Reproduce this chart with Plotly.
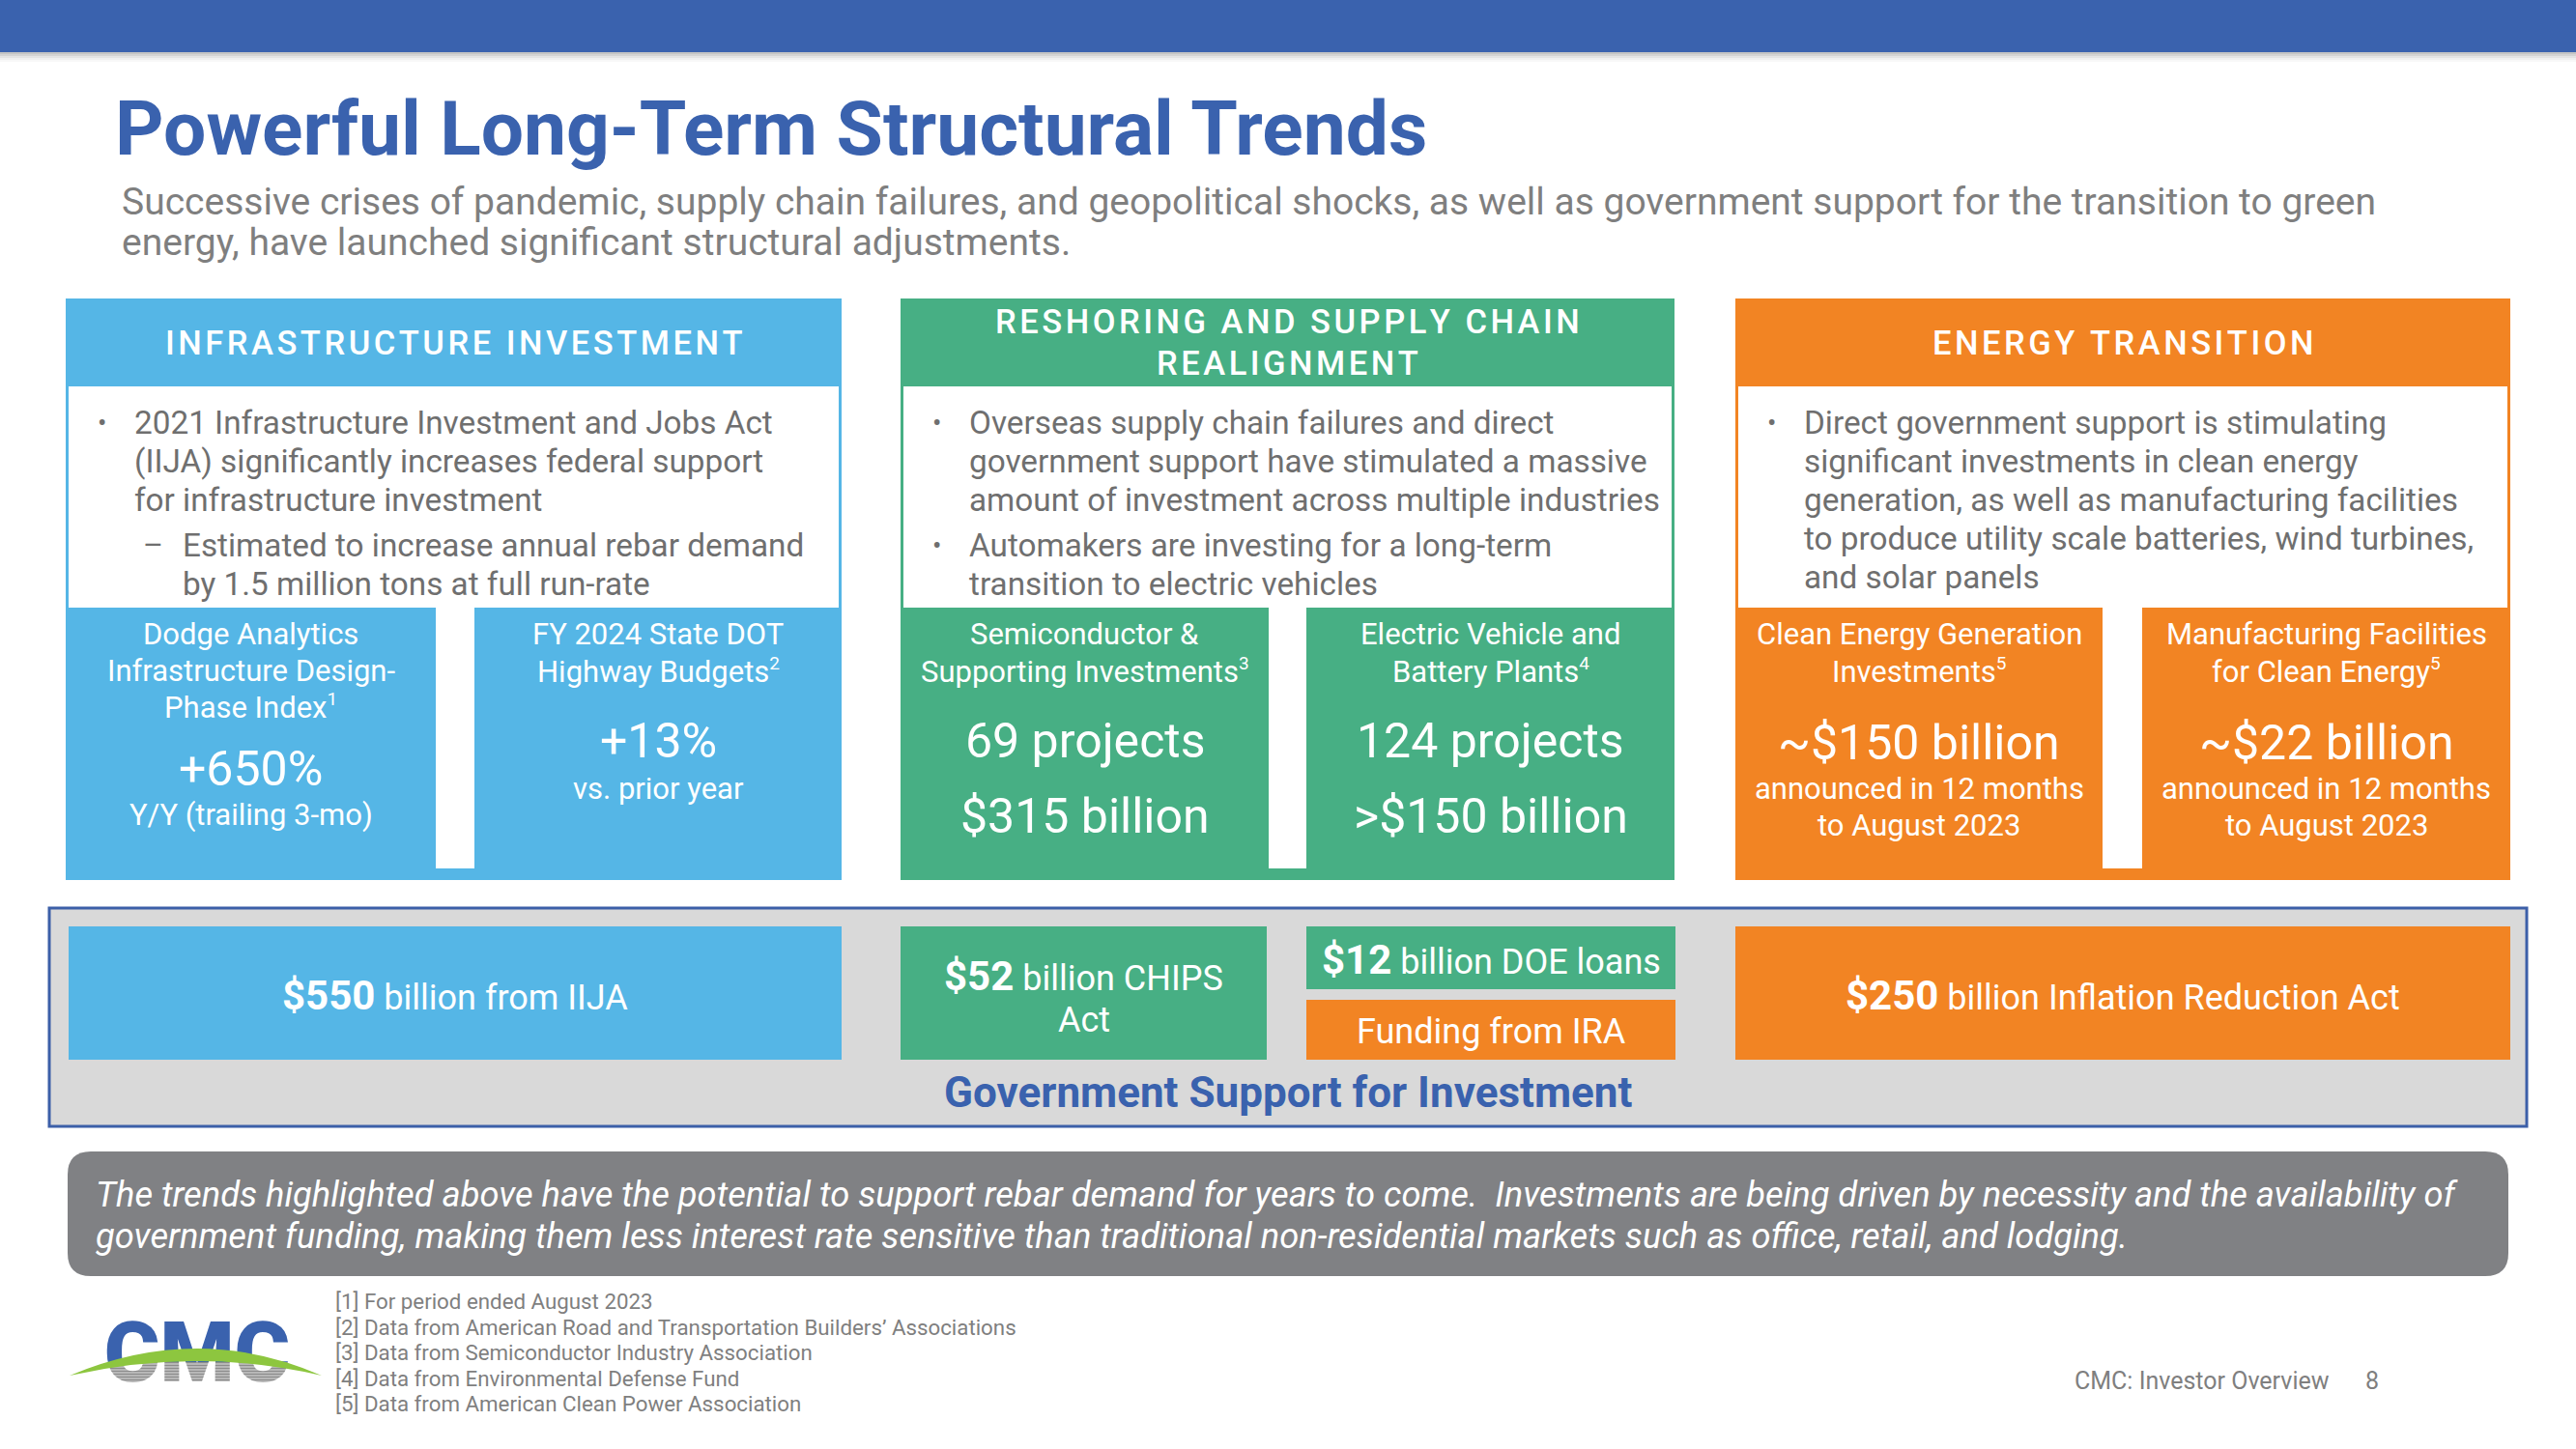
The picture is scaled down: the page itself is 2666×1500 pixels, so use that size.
import plotly.graph_objects as go

W, H = 2666, 1500

# ------------------------- data -------------------------
title = "Powerful Long-Term Structural Trends"
subtitle_lines = [
    "Successive crises of pandemic, supply chain failures, and geopolitical shocks, as well as government support for the transition to green",
    "energy, have launched significant structural adjustments.",
]
panel_titles = [
    ["INFRASTRUCTURE INVESTMENT"],
    ["RESHORING AND SUPPLY CHAIN", "REALIGNMENT"],
    ["ENERGY TRANSITION"],
]
panel_bullets = [
    [(0, ["2021 Infrastructure Investment and Jobs Act",
          "(IIJA) significantly increases federal support",
          "for infrastructure investment"]),
     (1, ["Estimated to increase annual rebar demand",
          "by 1.5 million tons at full run-rate"])],
    [(0, ["Overseas supply chain failures and direct",
          "government support have stimulated a massive",
          "amount of investment across multiple industries"]),
     (0, ["Automakers are investing for a long-term",
          "transition to electric vehicles"])],
    [(0, ["Direct government support is stimulating",
          "significant investments in clean energy",
          "generation, as well as manufacturing facilities",
          "to produce utility scale batteries, wind turbines,",
          "and solar panels"])],
]
metric_labels = [
    ["Dodge Analytics", "Infrastructure Design-", "Phase Index"],
    ["FY 2024 State DOT", "Highway Budgets"],
    ["Semiconductor &amp;", "Supporting Investments"],
    ["Electric Vehicle and", "Battery Plants"],
    ["Clean Energy Generation", "Investments"],
    ["Manufacturing Facilities", "for Clean Energy"],
]
metric_footnote_refs = ["1", "2", "3", "4", "5", "5"]
metric_values = [
    ["+650%"], ["+13%"],
    ["69 projects", "$315 billion"], ["124 projects", "&gt;$150 billion"],
    ["~$150 billion"], ["~$22 billion"],
]
metric_notes = [
    ["Y/Y (trailing 3-mo)"], ["vs. prior year"], [], [],
    ["announced in 12 months", "to August 2023"],
    ["announced in 12 months", "to August 2023"],
]
gov_amounts = ["$550", "$52", "$12", "", "$250"]
gov_texts = [" billion from IIJA", " billion CHIPS", " billion DOE loans",
             "Funding from IRA", " billion Inflation Reduction Act"]
gov_text_extra = ["", "Act", "", "", ""]
gov_caption = "Government Support for Investment"
summary_lines = [
    "The trends highlighted above have the potential to support rebar demand for years to come.  Investments are being driven by necessity and the availability of",
    "government funding, making them less interest rate sensitive than traditional non-residential markets such as office, retail, and lodging.",
]
footnotes = [
    "[1] For period ended August 2023",
    "[2] Data from American Road and Transportation Builders\u2019 Associations",
    "[3] Data from Semiconductor Industry Association",
    "[4] Data from Environmental Defense Fund",
    "[5] Data from American Clean Power Association",
]
footer_label = "CMC: Investor Overview"
page_number = "8"
logo_text = "CMC"

# ------------------------- styles -------------------------
BLUE_DARK = "#3A62AE"
COLORS = ["#55B6E6", "#47AF84", "#F28423"]
GRAY_TXT = "#6F6F6F"
FONT = "Roboto"

shapes, ann = [], []


def rect(x0, y0, x1, y1, fill, line=None, lw=0, layer="below", opacity=1):
    shapes.append(dict(type="rect", xref="x", yref="y", x0=x0, y0=y0, x1=x1, y1=y1,
                       fillcolor=fill, opacity=opacity, layer=layer,
                       line=dict(width=lw, color=line or fill)))


def txt(x, y, s, size, color, anchor="center", weight=400, italic=False, family=FONT):
    ann.append(dict(x=x, y=y, xref="x", yref="y", text=s, showarrow=False,
                    xanchor=anchor, yanchor="middle",
                    font=dict(size=size, color=color, family=family, weight=weight,
                              style="italic" if italic else "normal")))


def spaced(s):
    return "\u200a".join(list(s))


def rounded(x0, y0, x1, y1, r):
    return (f"M{x0+r},{y0} L{x1-r},{y0} Q{x1},{y0} {x1},{y0+r} L{x1},{y1-r} Q{x1},{y1} {x1-r},{y1} "
            f"L{x0+r},{y1} Q{x0},{y1} {x0},{y1-r} L{x0},{y0+r} Q{x0},{y0} {x0+r},{y0} Z")


# ---- top banner + shadow
rect(0, 0, W, 54, BLUE_DARK)
for i, op in enumerate([0.35, 0.25, 0.16, 0.09, 0.04]):
    rect(0, 54 + i * 2, W, 56 + i * 2, "#555555", opacity=op)

# ---- title & subtitle
txt(117, 133, f"<b>{title}</b>", 78.5, BLUE_DARK, anchor="left", weight=700)
for i, line in enumerate(subtitle_lines):
    txt(124, 209 + i * 42, line, 39, "#7F7F7F", anchor="left")

# ---- three panels
panels_x = [(68, 871, 451, 491), (932, 1733, 1313, 1352), (1796, 2598, 2176, 2217)]
P_TOP, HDR_BOT, WHITE_BOT, GAP_BOT, P_BOT = 309, 400, 629, 899, 911
label_y = [656, 694, 731]
value_y = {0: [796], 1: [767], 2: [767, 845], 3: [767, 845], 4: [769], 5: [769]}
note_y = {0: [843], 1: [816], 4: [816, 854], 5: [816, 854]}

for p, (x0, x1, g0, g1) in enumerate(panels_x):
    col = COLORS[p]
    rect(x0, P_TOP, x1, P_BOT, col)
    rect(x0 + 3, HDR_BOT, x1 - 3, WHITE_BOT, "white")
    rect(g0, WHITE_BOT - 1, g1, GAP_BOT, "white")
    cx = (x0 + x1) / 2
    tl = panel_titles[p]
    ys = [355] if len(tl) == 1 else [333, 376]
    for t, yy in zip(tl, ys):
        txt(cx, yy, spaced(t), 34.5, "white", weight=500)
    # bullets
    y = 437
    for level, lines in panel_bullets[p]:
        if level == 0:
            txt(x0 + 37, y, "\u2022", 28, GRAY_TXT)
            tx = x0 + 69
        else:
            txt(x0 + 90, y, "\u2013", 32, GRAY_TXT)
            tx = x0 + 119
        for ln in lines:
            txt(tx, y, ln, 33.3, GRAY_TXT, anchor="left")
            y += 40
        y += 7
    # metric boxes
    for side in range(2):
        k = p * 2 + side
        bx = (x0 + g0) / 2 if side == 0 else (g1 + x1) / 2
        labels = list(metric_labels[k])
        labels[-1] = labels[-1] + f"<sup><span style='font-size:19px'>{metric_footnote_refs[k]}</span></sup>"
        for ln, yy in zip(labels, label_y):
            txt(bx, yy, ln, 31, "white")
        for v, yy in zip(metric_values[k], value_y[k]):
            txt(bx, yy, v, 50, "white")
        for n, yy in zip(metric_notes[k], note_y.get(k, [])):
            txt(bx, yy, n, 31, "white")

# ---- government support block
rect(51, 940, 2615, 1166, "#D9D9D9", line="#3C5FA8", lw=3)
gov_boxes = [(71, 959, 871, 1097, COLORS[0]), (932, 959, 1311, 1097, COLORS[1]),
             (1352, 959, 1734, 1024, COLORS[1]), (1352, 1035, 1734, 1097, COLORS[2]),
             (1796, 959, 2598, 1097, COLORS[2])]
for i, (x0, y0, x1, y1, c) in enumerate(gov_boxes):
    rect(x0, y0, x1, y1, c)
    cx = (x0 + x1) / 2
    amt = gov_amounts[i]
    s = (f"<span style='font-size:42px'><b>{amt}</b></span>" if amt else "") + gov_texts[i]
    if gov_text_extra[i]:
        txt(cx, 1010, s, 36, "white")
        txt(cx, 1056, gov_text_extra[i], 36, "white")
    else:
        txt(cx, (y0 + y1) / 2 + 2, s, 36, "white")
txt(1333, 1131, f"<b>{gov_caption}</b>", 44, BLUE_DARK, weight=700)

# ---- summary box
shapes.append(dict(type="path", xref="x", yref="y", path=rounded(70, 1192, 2596, 1321, 24),
                   fillcolor="#808184", line=dict(width=0), layer="below"))
for i, line in enumerate(summary_lines):
    txt(97, 1236 + i * 43, line, 36.3, "white", anchor="left", italic=True)

# ---- footnotes & footer
for i, f in enumerate(footnotes):
    txt(345, 1347 + i * 26.5, f, 22.3, "#7F7F7F", anchor="left")
txt(2413, 1429, footer_label, 25, "#7F7F7F", anchor="right")
txt(2455, 1429, page_number, 25, "#7F7F7F")

# ---- logo: blue upper half / striped gray lower half via two clipped sub-axes
fig = go.Figure()
LX0, LX1, LY0, LSPLIT, LY1 = 95, 315, 1360, 1410, 1450
logo_font = dict(family=FONT, size=88, weight=900)
for ax, colr in (("2", BLUE_DARK), ("3", "#8C8C8C")):
    fig.add_trace(go.Scatter(x=[204], y=[1408], mode="text", text=[logo_text],
                             xaxis="x" + ax, yaxis="y" + ax,
                             textfont=dict(color=colr, **logo_font), cliponaxis=True,
                             hoverinfo="skip", showlegend=False))
for yy in range(LSPLIT + 2, LY1 - 10, 3):
    shapes.append(dict(type="line", xref="x", yref="y", x0=LX0, x1=LX1, y0=yy, y1=yy,
                       line=dict(color="rgba(255,255,255,0.75)", width=1), layer="above"))
shapes.append(dict(type="path", xref="x", yref="y",
                   path="M72,1424 Q205,1368 333,1424 Q205,1394 72,1424 Z",
                   fillcolor="#8DC63F", line=dict(width=0), layer="above"))


def pdx(px):
    return px / W


def pdy(py):
    return 1 - py / H


fig.update_layout(
    width=W, height=H, margin=dict(l=0, r=0, t=0, b=0),
    paper_bgcolor="white", plot_bgcolor="rgba(0,0,0,0)",
    xaxis=dict(range=[0, W], visible=False, fixedrange=True, domain=[0, 1]),
    yaxis=dict(range=[H, 0], visible=False, fixedrange=True, domain=[0, 1]),
    xaxis2=dict(range=[LX0, LX1], domain=[pdx(LX0), pdx(LX1)], visible=False, fixedrange=True, anchor="y2"),
    yaxis2=dict(range=[LSPLIT, LY0], domain=[pdy(LSPLIT), pdy(LY0)], visible=False, fixedrange=True, anchor="x2"),
    xaxis3=dict(range=[LX0, LX1], domain=[pdx(LX0), pdx(LX1)], visible=False, fixedrange=True, anchor="y3"),
    yaxis3=dict(range=[LY1, LSPLIT], domain=[pdy(LY1), pdy(LSPLIT)], visible=False, fixedrange=True, anchor="x3"),
    shapes=shapes, annotations=ann, font=dict(family=FONT),
    showlegend=False,
)
fig.write_html("out.html", post_script="document.body.style.margin='0';",
               config={"displayModeBar": False})
